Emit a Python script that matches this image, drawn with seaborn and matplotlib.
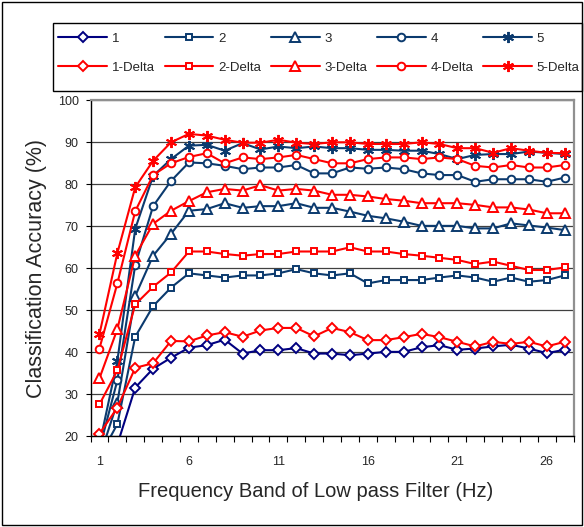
import matplotlib
matplotlib.use("Agg")
import matplotlib.pyplot as plt
import seaborn as sns
import numpy as np
from matplotlib.patches import Rectangle

sns.set_style("white")
plt.rcParams['font.family'] = ['Liberation Sans', 'DejaVu Sans']

freq = list(range(1, 28))
tick_labels = ["1", "6", "11", "16", "21", "26"]

s1 = [15, 18, 31.6, 36.1, 38.7, 41.1, 41.7, 43.0, 39.7, 40.5, 40.5, 41.0, 39.7, 39.7, 39.3, 39.7, 40.1, 40.1, 41.2, 41.7, 40.6, 40.9, 41.4, 41.8, 40.9, 39.8, 40.6]
s2 = [15, 22.9, 43.7, 51.0, 55.4, 58.8, 58.3, 57.8, 58.3, 58.3, 58.8, 59.8, 58.8, 58.3, 58.8, 56.4, 57.2, 57.2, 57.2, 57.8, 58.3, 57.8, 56.8, 57.8, 56.8, 57.2, 58.3]
s3 = [15, 28.0, 53.4, 63.0, 68.2, 73.7, 74.1, 75.5, 74.4, 74.8, 74.8, 75.5, 74.4, 74.4, 73.5, 72.5, 71.9, 71.1, 70.1, 70.1, 70.1, 69.5, 69.5, 70.7, 70.2, 69.7, 69.1]
s4 = [17, 33.3, 60.8, 74.8, 80.8, 85.2, 85.0, 84.4, 83.6, 84.0, 84.0, 84.6, 82.6, 82.6, 84.0, 83.7, 84.0, 83.6, 82.6, 82.2, 82.2, 80.6, 81.2, 81.2, 81.2, 80.6, 81.6]
s5 = [18, 37.9, 69.4, 82.0, 86.0, 89.2, 89.4, 88.0, 89.8, 88.3, 89.0, 88.6, 89.0, 88.6, 88.6, 88.2, 88.2, 88.0, 88.0, 87.2, 86.0, 87.0, 87.2, 87.2, 87.8, 87.5, 87.2]
s1d = [20.6, 26.8, 36.3, 37.4, 42.7, 42.6, 44.0, 44.8, 43.7, 45.2, 45.8, 45.8, 43.8, 45.8, 44.8, 42.9, 42.9, 43.6, 44.4, 43.6, 42.5, 41.4, 42.5, 42.0, 42.5, 41.4, 42.5]
s2d = [27.6, 35.7, 51.4, 55.6, 59.0, 64.0, 64.0, 63.4, 63.0, 63.4, 63.4, 64.0, 64.0, 64.0, 65.0, 64.0, 64.0, 63.4, 63.0, 62.5, 62.0, 61.0, 61.6, 60.6, 59.6, 59.6, 60.2]
s3d = [33.8, 45.5, 63.0, 70.6, 73.7, 76.0, 78.1, 78.9, 78.5, 79.8, 78.5, 78.9, 78.5, 77.5, 77.5, 77.1, 76.5, 76.1, 75.5, 75.5, 75.5, 75.1, 74.5, 74.5, 74.0, 73.1, 73.1]
s4d = [40.9, 56.4, 73.6, 82.2, 85.0, 86.5, 87.4, 85.0, 86.4, 86.0, 86.4, 87.0, 86.0, 85.0, 85.0, 86.0, 86.4, 86.4, 86.0, 86.4, 86.0, 84.4, 84.0, 84.6, 84.0, 84.0, 84.6]
s5d = [44.3, 63.6, 79.3, 85.6, 90.0, 92.0, 91.6, 90.6, 89.9, 89.9, 90.6, 89.9, 89.6, 90.0, 90.0, 89.6, 89.6, 89.6, 90.0, 89.6, 88.6, 88.6, 87.5, 88.6, 88.0, 87.5, 87.4]

names = ["1", "2", "3", "4", "5", "1-Delta", "2-Delta", "3-Delta", "4-Delta", "5-Delta"]
series = [s1, s2, s3, s4, s5, s1d, s2d, s3d, s4d, s5d]

navy = "#000080"
blue = "#0B3A6E"
red = "#FF0000"
colors = [navy, blue, blue, blue, blue, red, red, red, red, red]
ast = (6, 2, 0)
markers = ["D", "s", "^", "o", ast, "D", "s", "^", "o", ast]
msizes = [5, 5, 6.5, 5.5, 8, 5, 5, 6.5, 5.5, 8]

fig = plt.figure(figsize=(5.84, 5.27), dpi=100)
W, H = 584, 527
ax = fig.add_axes([90.5 / W, 1 - 436.3 / H, (573.6 - 90.5) / W, (436.3 - 100.3) / H])

handles = {}
for name, vals, c, m, ms in zip(names, series, colors, markers, msizes):
    sns.lineplot(x=freq, y=vals, ax=ax, color=c, marker=m, markersize=ms,
                 markerfacecolor="white", markeredgecolor=c, markeredgewidth=1.4,
                 linewidth=1.5, label=name, legend=False)
    handles[name] = ax.get_lines()[-1]

ax.set_xlim(0.5, 27.5)
ax.set_ylim(20, 100)
ax.set_yticks(range(20, 101, 10))
ax.yaxis.grid(True, color="#404040", linewidth=0.9)
ax.xaxis.grid(False)
ax.set_axisbelow(True)

ax.set_xticks(np.arange(0.5, 28, 1))
ax.set_xticklabels([])
ax.set_xticks([int(t) for t in tick_labels], minor=True)
ax.set_xticklabels(tick_labels, minor=True)
ax.tick_params(axis="x", which="major", direction="out", length=4.5, width=0.8, color="black", bottom=True)
ax.tick_params(axis="x", which="minor", length=0, labelsize=9, pad=14, bottom=True)
ax.tick_params(axis="y", direction="out", length=3.5, width=0.8, color="black", labelsize=9, pad=5, left=True)

for sp in ["left", "bottom"]:
    ax.spines[sp].set_color("black")
    ax.spines[sp].set_linewidth(1.0)
for sp in ["top", "right"]:
    ax.spines[sp].set_color("#909090")
    ax.spines[sp].set_linewidth(1.6)

ax.set_xlabel("Frequency Band of Low pass Filter (Hz)", fontsize=14.5, labelpad=8)
ax.xaxis.set_label_coords((316 - 90.5) / (573.6 - 90.5), -0.135)
ax.set_ylabel("Classification Accuracy (%)", fontsize=15.5, labelpad=8)

# legend box
fig.patches.append(Rectangle((53 / W, 1 - 91 / H), (582 - 53) / W, (91 - 23) / H,
                             transform=fig.transFigure, fill=False, edgecolor="black", linewidth=1.0))
order = ["1", "1-Delta", "2", "2-Delta", "3", "3-Delta", "4", "4-Delta", "5", "5-Delta"]
leg = fig.legend([handles[n] for n in order], order, ncol=5, loc="upper left",
                 bbox_to_anchor=(53 / W, 1 - 27 / H), frameon=False, fontsize=9.5,
                 handlelength=3.7, handletextpad=0.35, columnspacing=0.75, labelspacing=1.3,
                 borderpad=0.4, borderaxespad=0)

# outer border
fig.patches.append(Rectangle((2 / W, 2 / H), (W - 4) / W, (H - 4) / H, transform=fig.transFigure,
                             fill=False, edgecolor="black", linewidth=1.0))

fig.savefig("out.png", dpi=100)
